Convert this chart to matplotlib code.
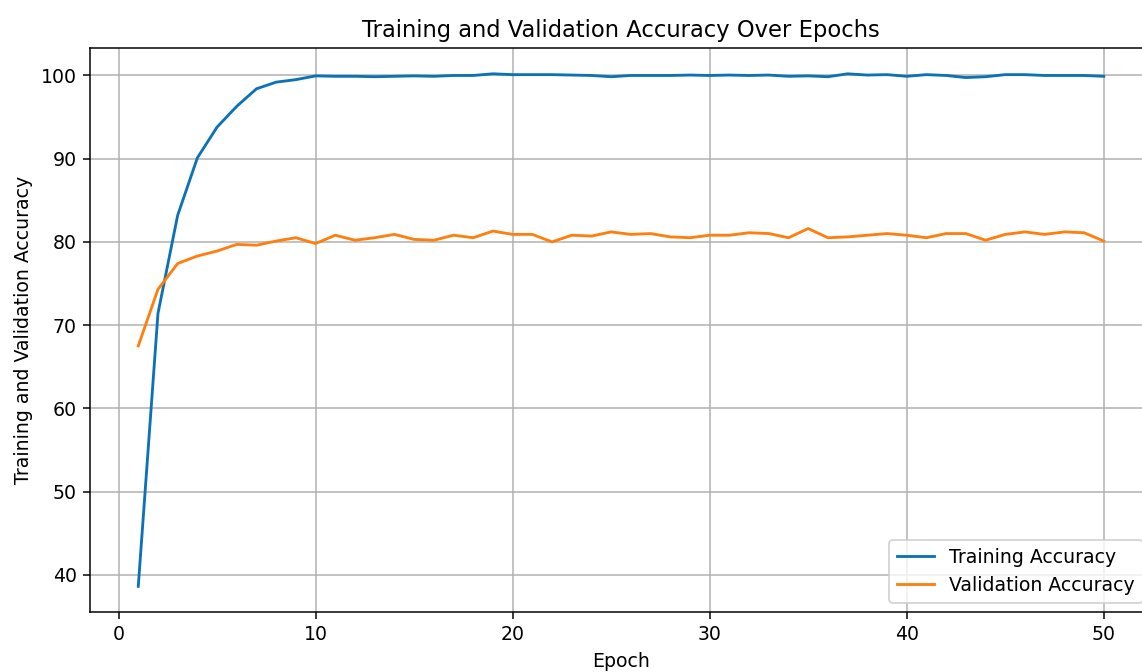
import numpy as np
import matplotlib
matplotlib.use("Agg")
import matplotlib.pyplot as plt

epochs = list(range(1, 51))

train_acc = [38.6, 71.4, 83.2, 90.1, 93.8, 96.3, 98.4, 99.2, 99.5, 99.95,
             99.9, 99.9, 99.85, 99.9, 99.95, 99.9, 100.0, 100.0, 100.2, 100.1,
             100.1, 100.1, 100.05, 100.0, 99.85, 100.0, 100.0, 100.0, 100.05, 100.0,
             100.05, 100.0, 100.05, 99.9, 99.95, 99.85, 100.2, 100.05, 100.1, 99.9,
             100.1, 100.0, 99.75, 99.85, 100.1, 100.1, 100.0, 100.0, 100.0, 99.9]

val_acc = [67.5, 74.3, 77.4, 78.3, 78.9, 79.7, 79.6, 80.1, 80.5, 79.8,
           80.8, 80.2, 80.5, 80.9, 80.3, 80.2, 80.8, 80.5, 81.3, 80.9,
           80.9, 80.0, 80.8, 80.7, 81.2, 80.9, 81.0, 80.6, 80.5, 80.8,
           80.8, 81.1, 81.0, 80.5, 81.6, 80.5, 80.6, 80.8, 81.0, 80.8,
           80.5, 81.0, 81.0, 80.2, 80.9, 81.2, 80.9, 81.2, 81.1, 80.1]

# figure was rendered larger and cropped; dpi 136 keeps text at the same scale
dpi = 136
fig = plt.figure(figsize=(1142 / dpi, 672 / dpi), dpi=dpi)
ax = fig.add_axes([0.0788, 0.0893, 0.930, 0.839])

ax.plot(epochs, train_acc, color='#0b72b6', label='Training Accuracy')
ax.plot(epochs, val_acc, color='#ff7f0e', label='Validation Accuracy')

ax.set_title('Training and Validation Accuracy Over Epochs')
ax.set_xlabel('Epoch')
ax.set_ylabel('Training and Validation Accuracy')
ax.grid(True)
ax.legend(loc='lower right')

fig.savefig('out.png', dpi=dpi)
